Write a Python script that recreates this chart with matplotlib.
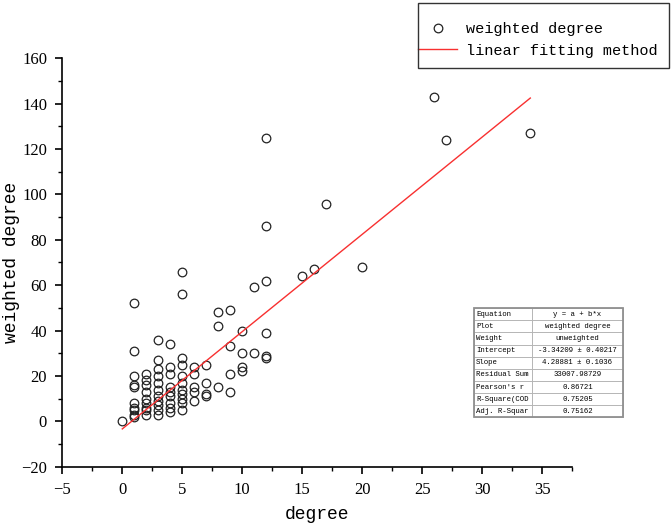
import matplotlib.pyplot as plt
from matplotlib.patches import Rectangle

# degree -> weighted degree values
deg_values = {
    0: [0],
    1: [52, 31, 20, 16, 15, 8, 6, 5, 3, 2],
    2: [21, 18, 16, 13, 10, 8, 6, 5, 3],
    3: [36, 27, 23, 20, 17, 14, 11, 9, 7, 5, 3],
    4: [34, 24, 21, 15, 13, 11, 8, 6, 4],
    5: [66, 56, 28, 25, 20, 17, 14, 12, 10, 8, 5],
    6: [24, 21, 15, 13, 9],
    7: [25, 17, 12, 11],
    8: [48, 42, 15],
    9: [49, 33, 21, 13],
    10: [40, 30, 24, 22],
    11: [59, 30],
    12: [125, 86, 62, 39, 29, 28],
    15: [64],
    16: [67],
    17: [96],
    20: [68],
    26: [143],
    27: [124],
    34: [127],
}
degree = [d for d, ws in deg_values.items() for _ in ws]
weighted = [w for ws in deg_values.values() for w in ws]

intercept = -3.34209
slope = 4.28881

table_rows = [
    ["Equation", "y = a + b*x"],
    ["Plot", "weighted degree"],
    ["Weight", "unweighted"],
    ["Intercept", "-3.34209 \u00b1 0.40217"],
    ["Slope", "4.28881 \u00b1 0.1036"],
    ["Residual Sum", "33007.98729"],
    ["Pearson's r", "0.86721"],
    ["R-Square(COD", "0.75205"],
    ["Adj. R-Squar", "0.75162"],
]

fig = plt.figure(figsize=(6.71, 5.27), dpi=100)
ax = fig.add_axes([0.0928, 0.1144, 0.7601, 0.775])

ax.plot(degree, weighted, 'o', ms=6.2, mfc='none', mec='#222222', mew=0.9,
        label='weighted degree')
fx = [min(degree), max(degree)]
fy = [intercept + slope * x for x in fx]
ax.plot(fx, fy, color='#f83030', lw=1.0, label='linear fitting method')

ax.set_xlim(-5, 37.5)
ax.set_ylim(-20, 160)
ax.set_xticks(range(-5, 36, 5))
ax.set_xticks([x + 2.5 for x in range(-5, 36, 5)], minor=True)
ax.set_yticks(range(-20, 161, 20))
ax.set_yticks(range(-10, 161, 20), minor=True)
for s in ['top', 'right']:
    ax.spines[s].set_visible(False)
for s in ['left', 'bottom']:
    ax.spines[s].set_linewidth(1.2)
ax.tick_params(which='major', direction='out', length=5, width=1.2,
               labelsize=12, pad=6)
ax.tick_params(which='minor', direction='out', length=3, width=1.0)
for lab in ax.get_xticklabels() + ax.get_yticklabels():
    lab.set_family('Liberation Serif')

ax.set_xlabel('degree', family='Liberation Mono', fontsize=13, labelpad=6)
ax.set_ylabel('weighted degree', family='Liberation Mono', fontsize=13)
ax.yaxis.set_label_coords(-0.083, 0.5)

# legend without its own frame, the box is drawn separately
leg = ax.legend(loc='upper left', bbox_to_anchor=(0.623, 0.958),
                bbox_transform=fig.transFigure, frameon=False,
                borderaxespad=0, borderpad=0, handlelength=2.55,
                handletextpad=0.6, labelspacing=0.5,
                prop={'family': 'Liberation Mono', 'size': 11})
fig.patches.append(Rectangle((418 / 671, 1 - 67.7 / 527), 251 / 671, 64.4 / 527,
                             transform=fig.transFigure, fill=False,
                             edgecolor='#333333', lw=1.0))

tab = ax.table(cellText=table_rows, colWidths=[0.386, 0.614],
               bbox=[0.807, 0.121, 0.293, 0.267], cellLoc='center')
tab.auto_set_font_size(False)
for (r, c), cell in tab.get_celld().items():
    cell.set_edgecolor('#b0b0b0')
    cell.set_linewidth(0.6)
    cell.get_text().set_fontsize(5.3)
    cell.get_text().set_family('Liberation Mono')
    if c == 0:
        cell.get_text().set_ha('left')
        cell.PAD = 0.04
ax.add_patch(Rectangle((0.807, 0.121), 0.293, 0.267, transform=ax.transAxes,
                       fill=False, edgecolor='#909090', lw=1.3, clip_on=False))

fig.savefig('out.png', dpi=100)
